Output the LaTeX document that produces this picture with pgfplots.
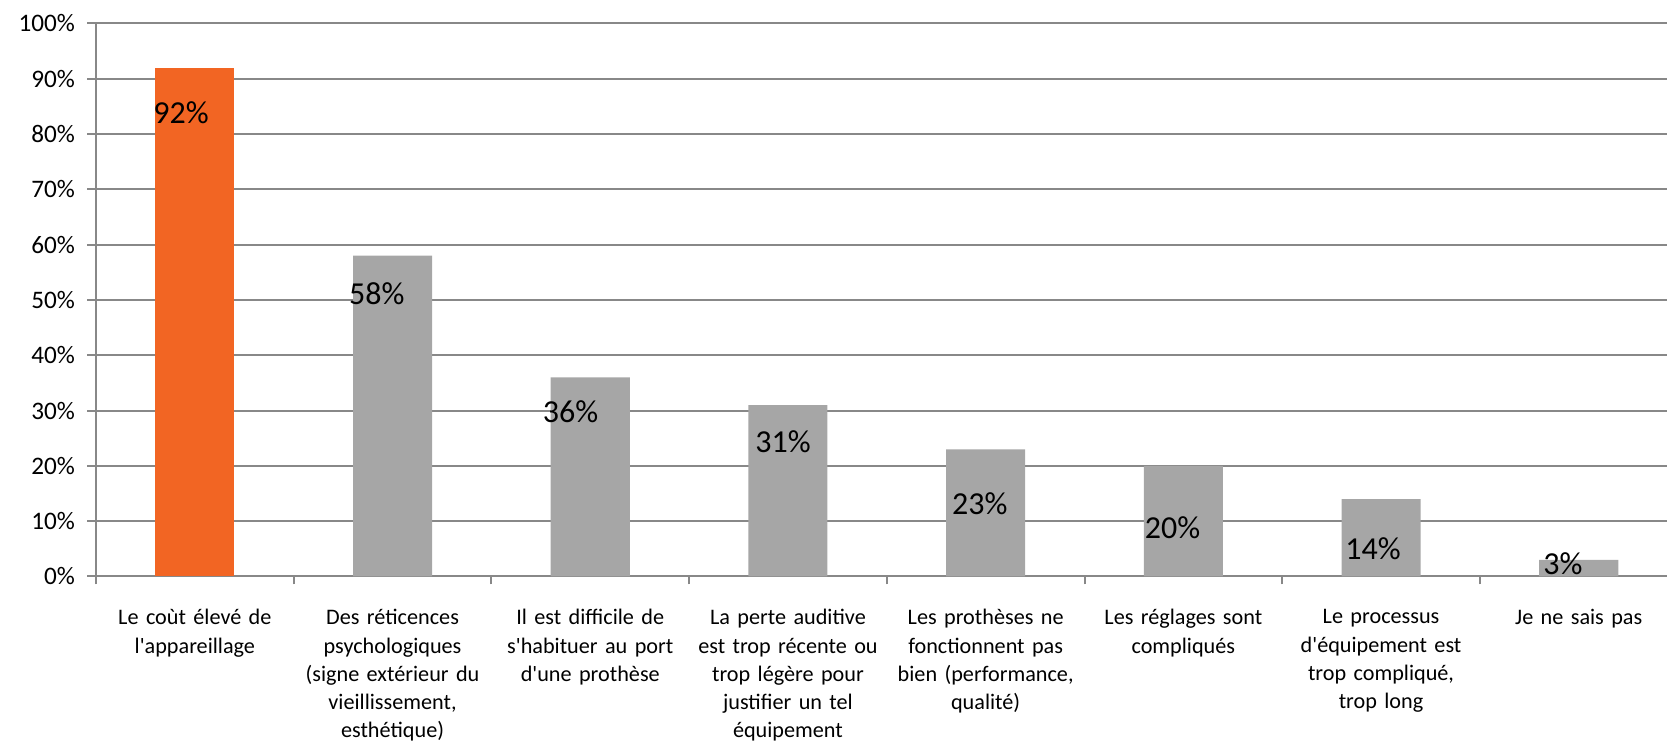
\documentclass[border=0pt]{standalone}
\usepackage{fontspec}
\setmainfont{Carlito}
\usepackage{pgfplots}
\pgfplotsset{compat=1.18}
\definecolor{barorange}{RGB}{242,101,35}
\definecolor{bargray}{RGB}{166,166,166}
\definecolor{gridgray}{RGB}{136,136,136}
\newcommand{\q}{\textquotesingle}
\begin{document}
\begin{tikzpicture}
\path[use as bounding box] (0,0) rectangle (833.5pt,371.5pt);
\begin{scope}
\clip (0,0) rectangle (833.5pt,371.5pt);
\begin{axis}[
  at={(48pt,83.25pt)}, anchor=south west,
  width=790.8pt, height=276.6pt, scale only axis,
  xmin=-0.5, xmax=7.5, ymin=0, ymax=100,
  /pgf/number format/assume math mode=true,
  axis lines*=left,
  axis line style={draw=gridgray, line width=1pt, -},
  ymajorgrids, grid style={draw=gridgray, line width=1pt},
  ytick={0,10,...,100},
  yticklabels={0\%,10\%,20\%,30\%,40\%,50\%,60\%,70\%,80\%,90\%,100\%},
  yticklabel style={font=\fontsize{12.6}{14}\selectfont, xshift=-2.5pt},
  tick align=outside,
  major tick length=4.5pt,
  tick style={draw=gridgray, line width=1pt},
  xtick={0,...,7},
  x tick style={draw=none},
  xticklabels={
    {Le coùt élevé de\\l\q appareillage},
    {Des réticences\\psychologiques\\(signe extérieur du\\vieillissement,\\esthétique)},
    {Il est difficile de\\s\q habituer au port\\d\q une prothèse},
    {La perte auditive\\est trop récente ou\\trop légère pour\\justifier un tel\\équipement},
    {Les prothèses ne\\fonctionnent pas\\bien (performance,\\qualité)},
    {Les réglages sont\\compliqués},
    {Le processus\\d\q équipement est\\trop compliqué,\\trop long},
    {Je ne sais pas}},
  xticklabel style={font=\fontsize{11.1}{14.1}\selectfont, align=center, text width=100pt, anchor=north, yshift=-8.5pt},
  extra x ticks={-0.5,0.5,1.5,2.5,3.5,4.5,5.5,6.5},
  extra x tick labels={},
  extra x tick style={x tick style={draw=gridgray, line width=1pt}, major tick length=4pt, grid=none},
  ybar, bar width=0.4, bar shift=0pt,
  clip=false,
]
\addplot[fill=barorange, draw=none] coordinates {(0,92)};
\addplot[fill=bargray, draw=none] coordinates {(1,58) (2,36) (3,31) (4,23) (5,20) (6,14) (7,3)};
\addplot[draw=none, fill=none, mark=none,
  point meta=explicit,
  nodes near coords={\pgfmathprintnumber{\pgfplotspointmeta}\%},
  nodes near coords style={anchor=center, font=\fontsize{16}{19}\selectfont, text=black}]
  table[x=x, y=y, meta=v] {
x y v
-0.07 83.8 92
0.92 51.2 58
1.90 29.8 36
2.975 24.4 31
3.97 13.2 23
4.945 8.9 20
5.96 5.1 14
6.92 2.3 3
};
\end{axis}
\end{scope}
\end{tikzpicture}
\end{document}
